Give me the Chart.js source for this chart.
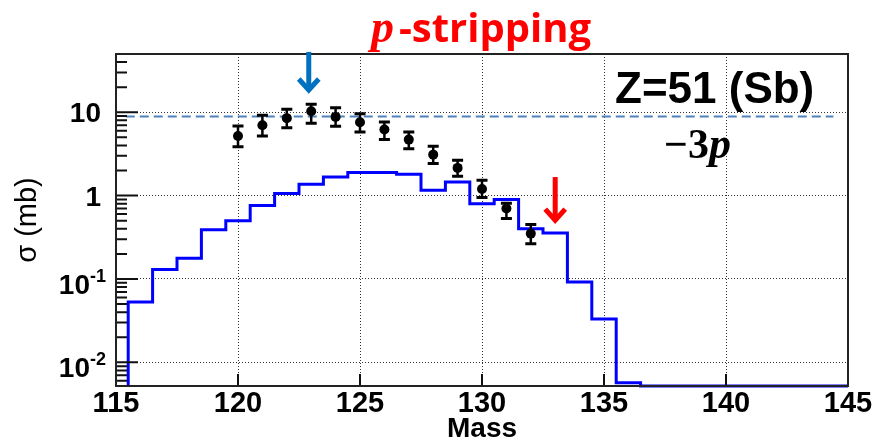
<!DOCTYPE html>
<html>
<head>
<meta charset="utf-8">
<title>Z=51 (Sb) -3p</title>
<script src="https://cdn.jsdelivr.net/npm/chart.js@4.4.1/dist/chart.umd.min.js"></script>
<style>
  html, body { margin: 0; padding: 0; background: #fff; }
  #wrap { width: 875px; height: 445px; position: relative; }
</style>
</head>
<body>
<div id="wrap"><canvas id="chart"></canvas></div>
<script>
// Model histogram: bin centres (width 1) and cross sections in mb
const binCentres = [116, 117, 118, 119, 120, 121, 122, 123, 124, 125, 126, 127, 128, 129, 130,
                    131, 132, 133, 134, 135, 136, 137, 138, 139, 140, 141, 142, 143, 144, 145];
const modelValues = [0.053, 0.13, 0.177, 0.39, 0.50, 0.76, 1.06, 1.37, 1.67, 1.89, 1.89, 1.80, 1.16, 1.46, 0.80,
                     0.90, 0.40, 0.356, 0.092, 0.033, 0.0057, 0, 0, 0, 0, 0, 0, 0, 0, 0];

// Measured points with asymmetric errors
const dataMasses = [120, 121, 122, 123, 124, 125, 126, 127, 128, 129, 130, 131, 132];
const dataValues = [5.2, 7.0, 8.5, 10.3, 8.8, 7.6, 6.2, 4.7, 3.1, 2.15, 1.2, 0.70, 0.35];
const dataHigh   = [6.85, 9.2, 10.9, 12.5, 11.3, 9.6, 7.65, 5.8, 3.9, 2.65, 1.53, 0.81, 0.45];
const dataLow    = [3.85, 5.2, 6.5, 7.4, 6.8, 5.8, 4.7, 3.65, 2.42, 1.71, 0.95, 0.53, 0.265];

// Horizontal reference level (dashed)
const refLevel = 8.9;
const refRange = [115.4, 144.4];

// Axis ranges and labelled decades
const xMin = 115, xMax = 145;
const yMin = 0.0052, yMax = 50;
const yMajorTicks = [0.01, 0.1, 1, 10];
const yTickBase = ['10', '10', '1', '10'];
const yTickExp  = ['-2', '-1', '', ''];

// Arrows: [mass, tail value, tip value, colour]
const arrows = [
  [122.9, 53, 17.5, '#0070c0'],
  [133.0, 1.67, 0.48, '#ff0000'],
];

// step outline from bin edges; empty bins sit on the axis floor
const histPoints = [{ x: binCentres[0] - 0.5, y: yMin }];
binCentres.forEach((c, i) => {
  histPoints.push({ x: c - 0.5, y: modelValues[i] > 0 ? modelValues[i] : yMin });
});
histPoints.push({ x: binCentres[binCentres.length - 1] + 0.5, y: histPoints[histPoints.length - 1].y });

const SANS = '"Liberation Sans", Arial, sans-serif';
const SERIF = '"Liberation Serif", "Times New Roman", serif';

function drawArrow(ctx, x, y0, y1, color) {
  ctx.save();
  ctx.strokeStyle = color;
  ctx.lineWidth = 5;
  ctx.lineCap = 'butt';
  ctx.lineJoin = 'miter';
  ctx.beginPath();
  ctx.moveTo(x, y0);
  ctx.lineTo(x, y1 - 2);
  ctx.stroke();
  ctx.beginPath();
  ctx.moveTo(x - 10, y1 - 13);
  ctx.lineTo(x, y1 - 2);
  ctx.lineTo(x + 10, y1 - 13);
  ctx.stroke();
  ctx.restore();
}

const rootStyle = {
  id: 'rootStyle',
  afterDatasetsDraw(chart) {
    const { ctx, scales: { x, y } } = chart;
    // error bars
    ctx.save();
    ctx.strokeStyle = '#000';
    dataMasses.forEach((m, i) => {
      const px = x.getPixelForValue(m);
      const top = y.getPixelForValue(dataHigh[i]);
      const bot = y.getPixelForValue(dataLow[i]);
      ctx.lineWidth = 2.5;
      ctx.beginPath();
      ctx.moveTo(px, top);
      ctx.lineTo(px, bot);
      ctx.stroke();
      ctx.lineWidth = 3;
      ctx.beginPath();
      ctx.moveTo(px - 5.5, top);
      ctx.lineTo(px + 5.5, top);
      ctx.moveTo(px - 5.5, bot);
      ctx.lineTo(px + 5.5, bot);
      ctx.stroke();
    });
    ctx.restore();
  },
  afterDraw(chart) {
    const { ctx, chartArea: a, scales: { x, y } } = chart;
    ctx.save();

    // tick marks inside the frame
    ctx.strokeStyle = '#111';
    ctx.lineWidth = 2;
    ctx.beginPath();
    for (let e = -3; e <= 1; e++) {
      for (let k = 1; k <= 9; k++) {
        const v = k * Math.pow(10, e);
        if (v < yMin || v > yMax) continue;
        const py = y.getPixelForValue(v);
        const len = k === 1 ? 22 : 11;
        ctx.moveTo(a.left, py);
        ctx.lineTo(a.left + len, py);
      }
    }
    for (let v = xMin + 5; v < xMax; v += 5) {
      const px = x.getPixelForValue(v);
      ctx.moveTo(px, a.bottom);
      ctx.lineTo(px, a.bottom - 12);
    }
    ctx.stroke();

    // frame
    ctx.strokeStyle = '#222';
    ctx.lineWidth = 2;
    ctx.strokeRect(a.left, a.top, a.right - a.left, a.bottom - a.top);

    // y labels with exponents
    ctx.fillStyle = '#000';
    ctx.textBaseline = 'alphabetic';
    yMajorTicks.forEach((v, i) => {
      const py = y.getPixelForValue(v);
      const exp = yTickExp[i];
      const right = 103;
      if (exp) {
        ctx.font = 'bold 18px ' + SANS;
        const ew = ctx.measureText(exp).width;
        ctx.textAlign = 'left';
        ctx.fillText(exp, right + 3 - ew, py + 3);
        ctx.font = 'bold 28px ' + SANS;
        ctx.textAlign = 'right';
        ctx.fillText(yTickBase[i], right + 3 - ew, py + 15);
      } else {
        ctx.font = 'bold 28px ' + SANS;
        ctx.textAlign = 'right';
        ctx.fillText(yTickBase[i], right - 2, py + 10);
      }
    });

    // title: italic p followed by "-stripping"
    ctx.fillStyle = '#ff0000';
    ctx.textAlign = 'left';
    ctx.font = 'italic bold 46px ' + SERIF;
    ctx.fillText('p', 371, 42);
    ctx.font = 'bold 40px "Open Sans", ' + SANS;
    ctx.fillText('-stripping', 399, 42);

    // element label
    ctx.fillStyle = '#000';
    ctx.font = 'bold 44px ' + SANS;
    ctx.fillText('Z=51 (Sb)', 615, 103);
    ctx.font = 'bold 42px ' + SERIF;
    ctx.fillText('\u22123', 664, 158);
    const mw = ctx.measureText('\u22123').width;
    ctx.font = 'italic bold 44px ' + SERIF;
    ctx.fillText('p', 664 + mw, 158);

    // arrows
    arrows.forEach(([m, from, to, color]) => {
      drawArrow(ctx, x.getPixelForValue(m), y.getPixelForValue(from), y.getPixelForValue(to), color);
    });

    ctx.restore();
  }
};

new Chart(document.getElementById('chart'), {
  type: 'line',
  data: {
    datasets: [
      {
        label: 'model',
        data: histPoints,
        stepped: true,
        borderColor: '#0000ff',
        borderWidth: 3,
        pointRadius: 0,
        fill: false,
        clip: { left: 0, top: 0, right: 0, bottom: 4 },
        order: 3,
      },
      {
        label: 'reference',
        data: [{ x: refRange[0], y: refLevel }, { x: refRange[1], y: refLevel }],
        borderColor: '#4f81bd',
        borderWidth: 2,
        borderDash: [9, 5],
        pointRadius: 0,
        fill: false,
        order: 2,
      },
      {
        label: 'data',
        data: dataMasses.map((m, i) => ({ x: m, y: dataValues[i] })),
        showLine: false,
        pointRadius: 5,
        pointBackgroundColor: '#000',
        pointBorderColor: '#000',
        pointBorderWidth: 0,
        order: 1,
      },
    ],
  },
  options: {
    responsive: true,
    maintainAspectRatio: false,
    animation: false,
    layout: { padding: { top: 54, right: 27, left: 0, bottom: 0 } },
    plugins: {
      legend: { display: false },
      tooltip: { enabled: false },
    },
    scales: {
      x: {
        type: 'linear',
        min: xMin,
        max: xMax,
        afterFit: (s) => { s.height = 59; },
        ticks: {
          stepSize: 5,
          color: '#000',
          padding: 1,
          maxRotation: 0,
          font: { family: SANS, size: 29, weight: 'bold' },
        },
        grid: { color: '#333', lineWidth: 1, drawTicks: false },
        border: { display: false, dash: [1, 2] },
        title: {
          display: true,
          text: 'Mass',
          color: '#000',
          font: { family: SANS, size: 28, weight: 'bold' },
          padding: { top: 0, bottom: -1 },
        },
      },
      y: {
        type: 'logarithmic',
        min: yMin,
        max: yMax,
        afterFit: (s) => { s.width = 116; },
        afterBuildTicks: (s) => { s.ticks = yMajorTicks.map((v) => ({ value: v })); },
        ticks: { display: false },
        grid: { color: '#333', lineWidth: 1, drawTicks: false },
        border: { display: false, dash: [1, 2] },
        title: {
          display: true,
          text: 'σ (mb)',
          color: '#000',
          font: { family: SANS, size: 29, weight: 'normal' },
          padding: { top: 11, bottom: 0 },
        },
      },
    },
  },
  plugins: [rootStyle],
});
</script>
</body>
</html>
